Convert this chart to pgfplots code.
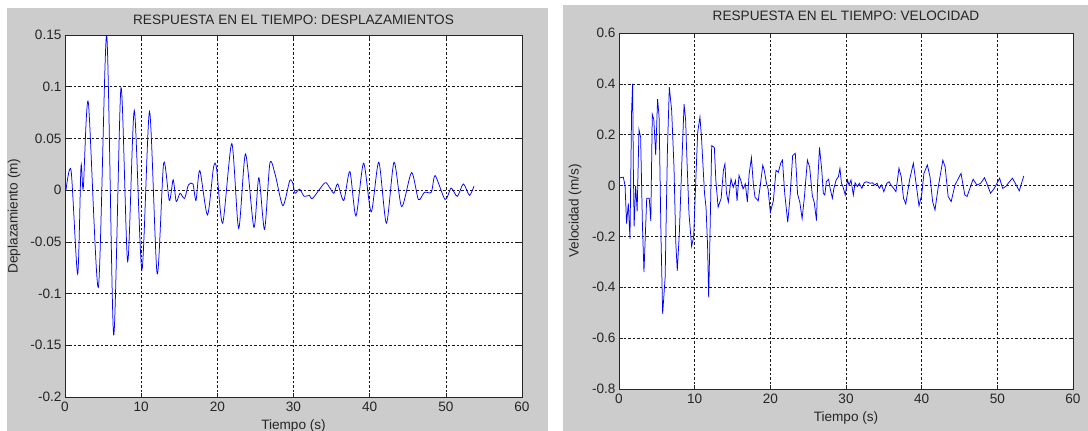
\documentclass[border=0pt]{standalone}
\usepackage{pgfplots}
\pgfplotsset{compat=1.18}
\usepackage{fontspec}
\setmainfont{Liberation Sans}
\definecolor{figgray}{RGB}{204,204,204}
\definecolor{mblue}{RGB}{0,0,255}
\pgfplotstableread{
t v
0.13 0
0.8 0.019
1.66 -0.081
2.1 0.023
2.4 0.002
3.06 0.085
4.38 -0.094
5.47 0.150
6.39 -0.140
7.35 0.099
8.23 -0.069
9.1 0.077
10.1 -0.077
11.1 0.076
12.1 -0.081
12.95 0.026
13.7 -0.010
14.2 0.010
14.6 -0.011
15.1 -0.003
15.7 -0.008
16.2 0.005
16.8 0.006
17.2 -0.010
17.7 0.019
18.7 -0.024
19.5 0.022
19.9 0.021
20.7 -0.032
21.9 0.045
22.8 -0.037
23.7 0.035
24.8 -0.036
25.45 0.012
26.2 -0.038
26.9 0.026
27.6 0.015
28.6 -0.015
29.5 0.009
29.9 0.007
30.2 -0.003
30.8 0.001
31.4 -0.006
32.1 -0.005
32.5 -0.008
34.1 0.007
34.7 0.003
35.3 -0.003
35.8 0.006
36.6 -0.010
37.4 0.018
38.2 -0.025
39.2 0.026
40.2 -0.021
41.2 0.027
42.2 -0.032
43.2 0.027
44.2 -0.016
45.5 0.017
46.4 -0.009
47.2 -0.002
48.1 -0.002
48.6 0.014
49.9 -0.009
50.7 0.002
51.5 -0.006
52.3 0.006
53.1 -0.005
53.7 0.004
}\desp
\pgfplotstableread{
t v
0 0.03
0.57 0.033
0.8 0
1.0 -0.15
1.23 -0.07
1.45 -0.21
1.67 0.30
1.8 0.40
1.9 0.06
2.0 -0.16
2.2 0.0
2.4 -0.10
2.64 0.22
2.86 0.19
3.1 -0.16
3.3 -0.34
3.66 -0.05
4.0 -0.05
4.2 -0.14
4.4 0.28
4.6 0.26
4.85 0.12
5.1 0.34
5.3 0.27
5.55 -0.20
5.77 -0.505
6.1 -0.36
6.4 0.14
6.65 0.387
6.96 0.295
7.27 0.07
7.5 -0.22
7.7 -0.335
7.97 -0.19
8.3 0.085
8.6 0.32
8.8 0.26
9.0 0.085
9.25 -0.11
9.6 -0.24
9.87 -0.20
10.2 0.06
10.4 0.21
10.7 0.27
10.9 0.19
11.3 -0.03
11.5 -0.085
11.7 -0.23
11.85 -0.44
12.0 -0.235
12.25 0.157
12.6 0.15
12.8 0.02
13.1 -0.085
13.5 -0.05
13.8 0.06
14.0 0.085
14.2 -0.03
14.45 -0.065
14.8 0.026
15.1 -0.007
15.4 0.02
15.6 -0.06
15.86 0.04
16.1 0.02
16.4 -0.013
16.7 0.007
16.96 -0.065
17.2 0.046
17.5 0.11
17.75 0.007
17.97 -0.046
18.4 -0.06
18.7 0.007
19.0 0.08
19.2 0.06
19.5 0.007
19.7 -0.013
20.0 -0.105
20.4 -0.06
20.75 0.06
21.05 0.052
21.4 0.09
21.6 0.10
21.9 -0.03
22.3 -0.145
22.6 -0.046
22.95 0.118
23.3 0.127
23.6 -0.033
23.9 -0.066
24.2 -0.13
24.5 -0.046
24.9 0.10
25.2 0.072
25.55 -0.04
25.8 -0.066
26.1 -0.138
26.25 0.007
26.5 0.15
26.8 0.06
27.0 -0.03
27.2 -0.037
27.4 0.015
27.7 0.025
27.9 -0.011
28.2 -0.05
28.4 -0.011
28.7 0.022
29.0 0.035
29.2 0.068
29.4 0.009
29.6 -0.004
29.9 -0.037
30.2 0.022
30.4 0.002
30.66 0.022
30.97 -0.037
31.2 0.011
31.5 -0.004
31.76 0.009
32.1 -0.011
32.4 0.011
32.7 0.015
33.2 0.009
33.5 0.011
33.8 0.002
34.1 0.009
34.4 -0.011
34.7 0.002
35.0 -0.024
35.4 0.009
35.7 0.015
35.95 0.002
36.3 -0.011
36.6 -0.024
37.0 0.068
37.3 0.035
37.6 -0.05
37.9 -0.072
38.4 0.022
38.9 0.088
39.2 0.022
39.65 -0.08
40.0 -0.037
40.3 0.048
40.75 0.081
41.1 0.035
41.45 -0.063
41.76 -0.096
42.2 -0.004
42.8 0.10
43.1 0.074
43.5 -0.043
43.9 -0.063
44.4 0.002
45.2 0.048
45.7 -0.037
46.0 -0.043
46.5 0.0
46.8 0.025
47.3 0.002
47.8 0.009
48.3 0.031
48.6 0.009
49.1 -0.03
49.6 -0.011
50.3 0.029
50.7 -0.011
51.1 -0.004
51.6 0.015
52.0 0.029
52.5 0.002
52.9 -0.021
53.2 0.009
53.5 0.038
}\velo
\pgfplotsset{
  mstyle/.style={
    scale only axis,
    anchor=south west,
    xmin=0, xmax=60,
    xtick={0,10,...,60},
    xticklabels={0,10,20,30,40,50,60},
    grid=major,
    grid style={black!90, line width=0.55pt, dash pattern=on 2.5pt off 2pt},
    tick align=inside,
    major tick length=4pt,
    axis line style={black!85, line width=0.8pt},
    tick style={black!85, line width=0.6pt},
    axis background/.style={fill=white},
    tick label style={font=\fontsize{13.6}{15}\selectfont, text=black!85},
    /pgf/number format/assume math mode=true,
    every axis x label/.style={at={(rel axis cs:0.5,0)}, anchor=center, yshift=-29pt, font=\fontsize{13.6}{15}\selectfont, text=black!85},
    xticklabel style={yshift=-1pt},
  }
}
\begin{document}
\begin{tikzpicture}
\path[use as bounding box] (0,0) rectangle (1088pt,431pt);
\clip (0,0) rectangle (1088pt,431pt);
\fill[white] (0,0) rectangle (1088pt,431pt);
\fill[figgray] (7pt,0) rectangle (548pt,423pt);
\fill[figgray] (563pt,0) rectangle (1088pt,426pt);
\begin{axis}[mstyle,
  at={(65pt,34pt)}, width=457pt, height=362pt,
  ymin=-0.2, ymax=0.15,
  ytick={-0.2,-0.15,-0.1,-0.05,0,0.05,0.1,0.15},
  yticklabels={-0.2,-0.15,-0.1,-0.05,0,0.05,0.1,0.15},
  title={RESPUESTA EN EL TIEMPO: DESPLAZAMIENTOS},
  every axis title/.style={at={(rel axis cs:0.5,1)}, anchor=center, yshift=15pt, font=\fontsize{13.6}{15}\selectfont, text=black!85},
  xlabel={Tiempo (s)},
  ylabel={Deplazamiento (m)},
  every axis y label/.style={at={(rel axis cs:0,0.5)}, anchor=center, xshift=-51pt, rotate=90, font=\fontsize{13.6}{15}\selectfont, text=black!85},
]
\addplot[mblue, line width=0.75pt, smooth, tension=0.45] table[x=t, y=v] {\desp};
\end{axis}
\begin{axis}[mstyle,
  at={(619pt,42pt)}, width=454pt, height=356pt,
  ymin=-0.8, ymax=0.6,
  ytick={-0.8,-0.6,-0.4,-0.2,0,0.2,0.4,0.6},
  yticklabels={-0.8,-0.6,-0.4,-0.2,0,0.2,0.4,0.6},
  title={RESPUESTA EN EL TIEMPO: VELOCIDAD},
  every axis title/.style={at={(rel axis cs:0.5,1)}, anchor=center, yshift=17pt, font=\fontsize{13.6}{15}\selectfont, text=black!85},
  xlabel={Tiempo (s)},
  ylabel={Velocidad (m/s)},
  every axis y label/.style={at={(rel axis cs:0,0.5)}, anchor=center, xshift=-44pt, rotate=90, font=\fontsize{13.6}{15}\selectfont, text=black!85},
]
\addplot[mblue, line width=0.75pt] table[x=t, y=v] {\velo};
\end{axis}
\end{tikzpicture}
\end{document}
